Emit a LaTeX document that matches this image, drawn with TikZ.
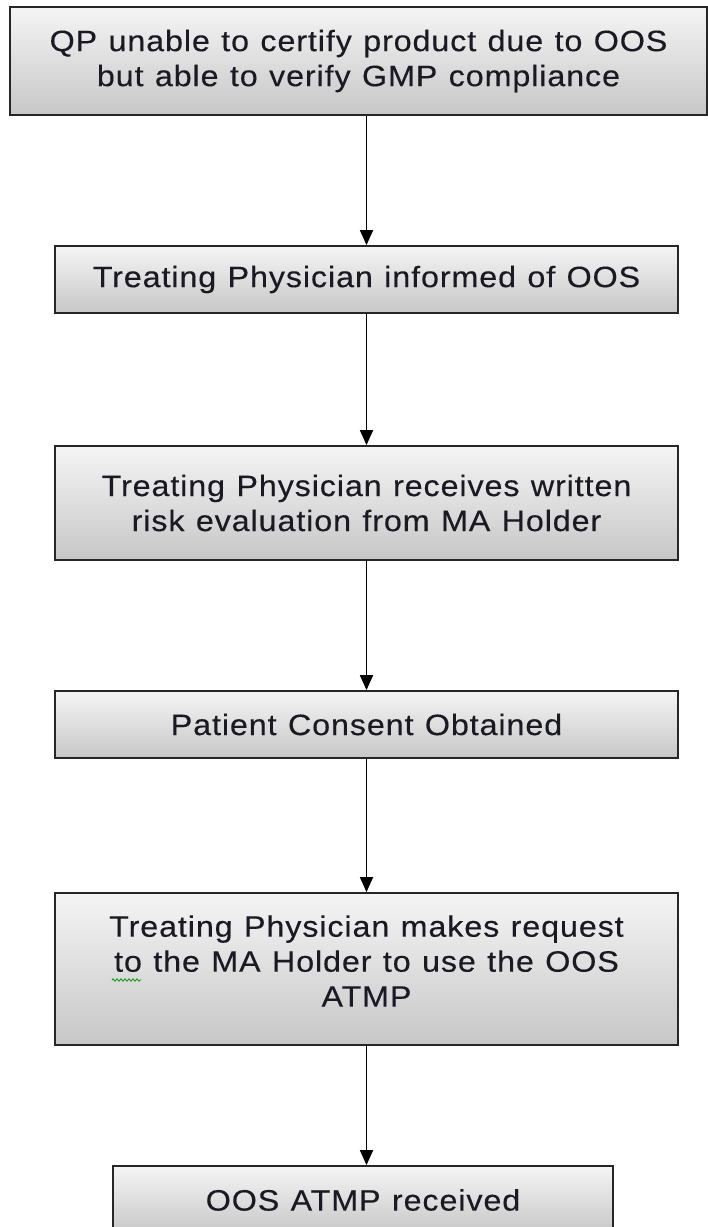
\documentclass[tikz,border=0pt]{standalone}
\usepackage{fontspec}
\setmainfont{Liberation Sans}[FakeStretch=1.095,LetterSpace=3,FakeBold=0.25,WordSpace=1.15]
\usetikzlibrary{arrows.meta,decorations.pathmorphing}
\definecolor{txt}{HTML}{1A1A24}
\definecolor{edge}{HTML}{262626}
\begin{document}
\begin{tikzpicture}[x=1pt,y=-1pt,
  stepbox/.style={draw=edge, line width=1.8pt, top color=black!4, bottom color=black!22,
    inner sep=0pt, align=center, text=txt, font=\fontsize{29.5}{35}\selectfont},
  flow/.style={draw=black, line width=1.8pt, -{Triangle[width=13pt,length=15pt]}}]
\useasboundingbox (0,0) rectangle (708,1227);
\clip (0,0) rectangle (708,1227);
\node[stepbox, minimum width=697pt, minimum height=108pt] (b1) at (358.5,61)
  {QP unable to certify product due to OOS\\but able to verify GMP compliance};
\node[stepbox, minimum width=623pt, minimum height=67pt] (b2) at (366.5,279.5)
  {Treating Physician informed of OOS};
\node[stepbox, minimum width=623pt, minimum height=114pt] (b3) at (366.5,503)
  {Treating Physician receives written\\risk evaluation from MA Holder};
\node[stepbox, minimum width=623pt, minimum height=67pt] (b4) at (366.5,724.5)
  {Patient Consent Obtained};
\node[stepbox, minimum width=623pt, minimum height=152pt, text depth=16pt] (b5) at (366.5,969)
  {Treating Physician makes request\\to the MA Holder to use the OOS\\ATMP};
\node[stepbox, minimum width=500pt, minimum height=68pt] (b6) at (363,1200)
  {OOS ATMP received};
\draw[flow] (b1.south -| b2.north) -- (b2.north);
\draw[flow] (b2.south) -- (b3.north);
\draw[flow] (b3.south) -- (b4.north);
\draw[flow] (b4.south) -- (b5.north);
\draw[flow] (b5.south) -- (b5.south |- b6.north);
\draw[green!60!black, line width=0.8pt, decorate,
  decoration={zigzag, amplitude=1.2pt, segment length=4pt}] (112,980) -- (141,980);
\end{tikzpicture}
\end{document}
